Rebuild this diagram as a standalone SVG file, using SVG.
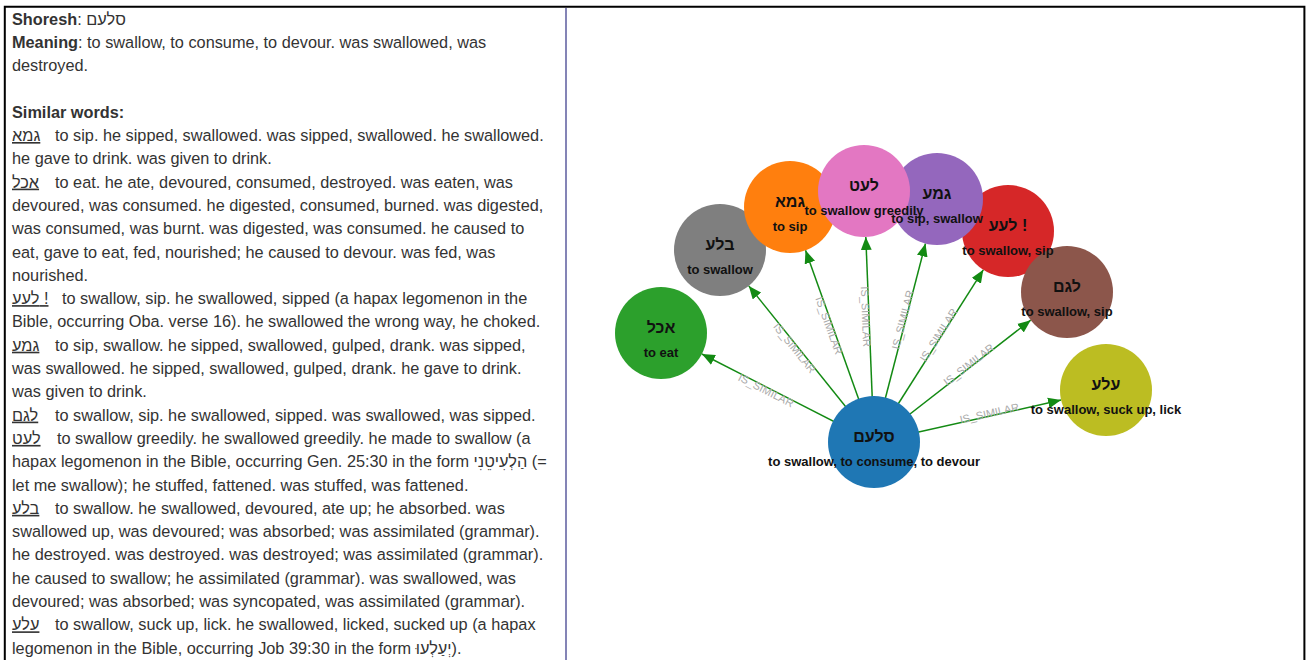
<svg xmlns="http://www.w3.org/2000/svg" width="1306" height="660" viewBox="0 0 1306 660">
<defs>
<style>
.txt{font-family:"Liberation Sans","DejaVu Sans",Arial,sans-serif;font-size:16.3px;fill:#333}
.b{font-weight:bold}
.heb{text-decoration:underline}
.edge{stroke:#138a13;stroke-width:1.5;fill:none;marker-end:url(#arrow)}
.elab{font-family:"Liberation Sans",Arial,sans-serif;font-size:11px;fill:#aaa;text-anchor:middle}
.nh{font-family:"Liberation Sans","DejaVu Sans",Arial,sans-serif;font-size:16px;font-weight:bold;fill:#111;text-anchor:middle}
.ne{font-family:"Liberation Sans",Arial,sans-serif;font-size:13px;font-weight:bold;fill:#111;text-anchor:middle}
</style>
<marker id="arrow" viewBox="0 0 12 10" refX="12" refY="5" markerWidth="13" markerHeight="11" markerUnits="userSpaceOnUse" orient="auto">
<path d="M0,0 L12,5 L0,10 Z" fill="#138a13"/>
</marker>
</defs>
<rect x="0" y="0" width="1306" height="660" fill="#fff"/>
<path d="M4.8,662 V6.8 H1304.4 V662" fill="none" stroke="#000" stroke-width="2"/>
<line x1="566" y1="8" x2="566" y2="660" stroke="#8484b6" stroke-width="2"/>

<g id="info">
<text class="txt" x="12" y="24.5"><tspan class="b">Shoresh</tspan>: סלעם</text>
<text class="txt" x="12" y="47.8"><tspan class="b">Meaning</tspan>: to swallow, to consume, to devour. was swallowed, was</text>
<text class="txt" x="12" y="71.1">destroyed.</text>
<text class="txt b" x="12" y="117.7">Similar words:</text>
<text class="txt heb" x="12" y="141">גמא</text>
<text class="txt" x="55" y="141">to sip. he sipped, swallowed. was sipped, swallowed. he swallowed.</text>
<text class="txt" x="12" y="164.3">he gave to drink. was given to drink.</text>
<text class="txt heb" x="12" y="187.6">אכל</text>
<text class="txt" x="55" y="187.6">to eat. he ate, devoured, consumed, destroyed. was eaten, was</text>
<text class="txt" x="12" y="210.9">devoured, was consumed. he digested, consumed, burned. was digested,</text>
<text class="txt" x="12" y="234.2">was consumed, was burnt. was digested, was consumed. he caused to</text>
<text class="txt" x="12" y="257.5">eat, gave to eat, fed, nourished; he caused to devour. was fed, was</text>
<text class="txt" x="12" y="280.8">nourished.</text>
<text class="txt heb" x="12" y="304.1">לעע !</text>
<text class="txt" x="62" y="304.1">to swallow, sip. he swallowed, sipped (a hapax legomenon in the</text>
<text class="txt" x="12" y="327.4">Bible, occurring Oba. verse 16). he swallowed the wrong way, he choked.</text>
<text class="txt heb" x="12" y="350.7">גמע</text>
<text class="txt" x="55" y="350.7">to sip, swallow. he sipped, swallowed, gulped, drank. was sipped,</text>
<text class="txt" x="12" y="374">was swallowed. he sipped, swallowed, gulped, drank. he gave to drink.</text>
<text class="txt" x="12" y="397.3">was given to drink.</text>
<text class="txt heb" x="12" y="420.6">לגם</text>
<text class="txt" x="55" y="420.6">to swallow, sip. he swallowed, sipped. was swallowed, was sipped.</text>
<text class="txt heb" x="12" y="443.9">לעט</text>
<text class="txt" x="57" y="443.9">to swallow greedily. he swallowed greedily. he made to swallow (a</text>
<text class="txt" x="12" y="467.2">hapax legomenon in the Bible, occurring Gen. 25:30 in the form הַלְעִיטֵנִי (=</text>
<text class="txt" x="12" y="490.5">let me swallow); he stuffed, fattened. was stuffed, was fattened.</text>
<text class="txt heb" x="12" y="513.8">בלע</text>
<text class="txt" x="55" y="513.8">to swallow. he swallowed, devoured, ate up; he absorbed. was</text>
<text class="txt" x="12" y="537.1">swallowed up, was devoured; was absorbed; was assimilated (grammar).</text>
<text class="txt" x="12" y="560.4">he destroyed. was destroyed. was destroyed; was assimilated (grammar).</text>
<text class="txt" x="12" y="583.7">he caused to swallow; he assimilated (grammar). was swallowed, was</text>
<text class="txt" x="12" y="607">devoured; was absorbed; was syncopated, was assimilated (grammar).</text>
<text class="txt heb" x="12" y="630.3">עלע</text>
<text class="txt" x="55" y="630.3">to swallow, suck up, lick. he swallowed, licked, sucked up (a hapax</text>
<text class="txt" x="12" y="653.6">legomenon in the Bible, occurring Job 39:30 in the form יְעַלְעוּ).</text>
</g>

<g id="connectors">
<line class="edge" x1="874" y1="442" x2="701.9" y2="354"/>
<line class="edge" x1="874" y1="442" x2="748.8" y2="285.9"/>
<line class="edge" x1="874" y1="442" x2="805.5" y2="250.3"/>
<line class="edge" x1="874" y1="442" x2="865.8" y2="237"/>
<line class="edge" x1="874" y1="442" x2="925.5" y2="243.5"/>
<line class="edge" x1="874" y1="442" x2="983.3" y2="269.8"/>
<line class="edge" x1="874" y1="442" x2="1030.7" y2="320.2"/>
<line class="edge" x1="874" y1="442" x2="1061.1" y2="400.1"/>
<text class="elab" transform="translate(766.1,390.2) rotate(27.1)" y="4">IS_SIMILAR</text>
<text class="elab" transform="translate(794.7,347.9) rotate(51.3)" y="4">IS_SIMILAR</text>
<text class="elab" transform="translate(829.2,325.5) rotate(70.3)" y="4">IS_SIMILAR</text>
<text class="elab" transform="translate(866,316.6) rotate(87.7)" y="4">IS_SIMILAR</text>
<text class="elab" transform="translate(902.6,319.7) rotate(-75.5)" y="4">IS_SIMILAR</text>
<text class="elab" transform="translate(938.5,334.9) rotate(-57.6)" y="4">IS_SIMILAR</text>
<text class="elab" transform="translate(968.7,364.6) rotate(-37.9)" y="4">IS_SIMILAR</text>
<text class="elab" transform="translate(989.3,413.1) rotate(-12.6)" y="4">IS_SIMILAR</text>
</g>

<g id="nodes">
<g id="node-akhal"><circle cx="661" cy="333" r="46" fill="#2ca02c"/></g>
<g id="node-bala"><circle cx="720" cy="250" r="46" fill="#7f7f7f"/></g>
<g id="node-gama"><circle cx="790" cy="207" r="46" fill="#ff7f0e"/></g>
<g id="node-laa"><circle cx="1008" cy="231" r="46" fill="#d62728"/></g>
<g id="node-lagam"><circle cx="1067" cy="292" r="46" fill="#8c564b"/></g>
<g id="node-ala"><circle cx="1106" cy="390" r="46" fill="#bcbd22"/></g>
<g id="node-salam"><circle cx="874" cy="442" r="46" fill="#1f77b4"/></g>
<g id="node-gama2"><circle cx="937" cy="199" r="46" fill="#9467bd"/></g>
<g id="node-laat"><circle cx="864" cy="191" r="46" fill="#e377c2"/></g>
</g>

<g id="node-labels">
<g id="label-akhal">
<text class="nh" x="661" y="333">אכל</text>
<text class="ne" x="661" y="357">to eat</text>
</g>
<g id="label-bala">
<text class="nh" x="720" y="250">בלע</text>
<text class="ne" x="720" y="274">to swallow</text>
</g>
<g id="label-gama">
<text class="nh" x="790" y="207">גמא</text>
<text class="ne" x="790" y="231">to sip</text>
</g>
<g id="label-laa">
<text class="nh" x="1008" y="231">לעע !</text>
<text class="ne" x="1008" y="255">to swallow, sip</text>
</g>
<g id="label-lagam">
<text class="nh" x="1067" y="292">לגם</text>
<text class="ne" x="1067" y="316">to swallow, sip</text>
</g>
<g id="label-ala">
<text class="nh" x="1106" y="390">עלע</text>
<text class="ne" x="1106" y="414">to swallow, suck up, lick</text>
</g>
<g id="label-salam">
<text class="nh" x="874" y="442">סלעם</text>
<text class="ne" x="874" y="466">to swallow, to consume, to devour</text>
</g>
<g id="label-gama2">
<text class="nh" x="937" y="199">גמע</text>
<text class="ne" x="937" y="223">to sip, swallow</text>
</g>
<g id="label-laat">
<text class="nh" x="864" y="191">לעט</text>
<text class="ne" x="864" y="215">to swallow greedily</text>
</g>
</g>
</svg>
